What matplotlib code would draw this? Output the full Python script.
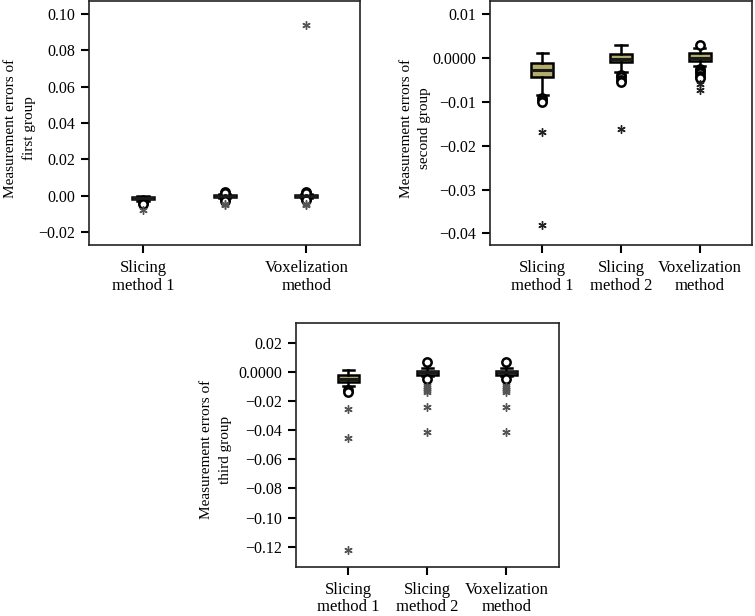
import matplotlib
matplotlib.use("Agg")
import matplotlib.pyplot as plt
from matplotlib.ticker import FixedLocator, FixedFormatter

plt.rcParams['font.family'] = ['Liberation Serif', 'DejaVu Serif']

categories = ["Slicing\nmethod 1", "Slicing\nmethod 2", "Voxelization\nmethod"]

# group 1: [whisker low, q1, median, q3, whisker high]
g1_stats = [[-0.0025, -0.0018, -0.0010, -0.0004, 0.0002],
            [-0.0012, -0.0006, 0.0000, 0.0006, 0.0012],
            [-0.0012, -0.0006, 0.0000, 0.0006, 0.0012]]
g1_circles = [[-0.0035, -0.0045],
              [0.0022, 0.0017, -0.0018, -0.0025],
              [0.0022, 0.0016, -0.0018, -0.0024]]
g1_stars = [[-0.0078], [-0.0042, -0.0052], [-0.0042, -0.0052, 0.0935]]

g2_stats = [[-0.0085, -0.0043, -0.0027, -0.0011, 0.0011],
            [-0.0031, -0.0009, -0.0002, 0.0010, 0.0031],
            [-0.0018, -0.0007, 0.0000, 0.0011, 0.0023]]
g2_circles = [[-0.0091, -0.0096, -0.0101],
              [-0.0038, -0.0044, -0.0050, -0.0055],
              [0.0030, -0.0025, -0.0030, -0.0034, -0.0040, -0.0046]]
g2_stars = [[-0.0168, -0.0382], [-0.0162], [-0.0060, -0.0073]]

g3_stats = [[-0.0094, -0.0066, -0.0050, -0.0020, 0.0016],
            [-0.0030, -0.0020, -0.0003, 0.0009, 0.0030],
            [-0.0030, -0.0020, -0.0003, 0.0009, 0.0030]]
g3_circles = [[-0.0125, -0.0140],
              [0.0066, -0.0048],
              [0.0066, -0.0048]]
g3_stars = [[-0.0253, -0.0452, -0.1224],
            [-0.0094, -0.0110, -0.0125, -0.0140, -0.0242, -0.0413],
            [-0.0094, -0.0110, -0.0125, -0.0140, -0.0242, -0.0413]]

ylabels = ["Measurement errors of\nfirst group",
           "Measurement errors of\nsecond group",
           "Measurement errors of\nthird group"]
g1_ticks = [-0.02, 0.0, 0.02, 0.04, 0.06, 0.08, 0.10]
g1_ticklabels = ["\u22120.02", "0.00", "0.02", "0.04", "0.06", "0.08", "0.10"]
g2_ticks = [-0.04, -0.03, -0.02, -0.01, 0.0, 0.01]
g2_ticklabels = ["\u22120.04", "\u22120.03", "\u22120.02", "\u22120.01", "0.0000", "0.01"]
g3_ticks = [-0.12, -0.10, -0.08, -0.06, -0.04, -0.02, 0.0, 0.02]
g3_ticklabels = ["\u22120.12", "\u22120.10", "\u22120.08", "\u22120.06", "\u22120.04", "\u22120.02", "0.0000", "0.02"]

fig = plt.figure(figsize=(7.55, 6.16), dpi=100)

def panel(rect, stats, circles, stars, ylab, ticks, ticklabels, ylim, xticks, star_color, ylab_x):
    ax = fig.add_axes(rect)
    bstats = []
    for s, c in zip(stats, circles):
        bstats.append(dict(whislo=s[0], q1=s[1], med=s[2], q3=s[3], whishi=s[4], fliers=c))
    pos = [1, 2, 3]
    ax.bxp(bstats, positions=pos, widths=0.27, patch_artist=True, showfliers=True,
           boxprops=dict(facecolor="#b3ad6b", edgecolor="black", linewidth=1.8),
           medianprops=dict(color="#1a1a1a", linewidth=2.2),
           whiskerprops=dict(color="black", linewidth=1.8),
           capprops=dict(color="black", linewidth=1.8),
           capwidths=0.14,
           flierprops=dict(marker="o", markerfacecolor="white", markeredgecolor="black",
                           markersize=6, markeredgewidth=1.8, linestyle="none"))
    for p, st in zip(pos, stars):
        ax.plot([p] * len(st), st, linestyle="none", marker=(6, 2, 0), markersize=6,
                color=star_color, markeredgewidth=1.0)
    ax.set_xlim(0.34, 3.66)
    ax.set_ylim(*ylim)
    ax.yaxis.set_major_locator(FixedLocator(ticks))
    ax.yaxis.set_major_formatter(FixedFormatter(ticklabels))
    ax.set_xticks([p for p in xticks])
    ax.set_xticklabels([categories[p - 1] for p in xticks], fontsize=12, linespacing=1.1)
    ax.tick_params(axis="both", direction="out", length=6, width=1.5, colors="black")
    ax.tick_params(axis="y", labelsize=11.5, pad=4)
    ax.tick_params(axis="x", pad=5)
    ax.set_ylabel(ylab, fontsize=11, linespacing=1.55)
    ax.yaxis.set_label_coords(ylab_x, 0.48)
    for sp in ax.spines.values():
        sp.set_linewidth(1.2)
        sp.set_color("#222222")
    return ax

panel([0.118, 0.602, 0.359, 0.396], g1_stats, g1_circles, g1_stars, ylabels[0],
      g1_ticks, g1_ticklabels, (-0.027, 0.1068), [1, 3], "#555555", -0.195)
panel([0.649, 0.602, 0.347, 0.396], g2_stats, g2_circles, g2_stars, ylabels[1],
      g2_ticks, g2_ticklabels, (-0.0427, 0.0130), [1, 2, 3], "#222222", -0.225)
panel([0.392, 0.080, 0.348, 0.396], g3_stats, g3_circles, g3_stars, ylabels[2],
      g3_ticks, g3_ticklabels, (-0.1337, 0.0337), [1, 2, 3], "#555555", -0.245)

fig.savefig("out.png", dpi=100)
